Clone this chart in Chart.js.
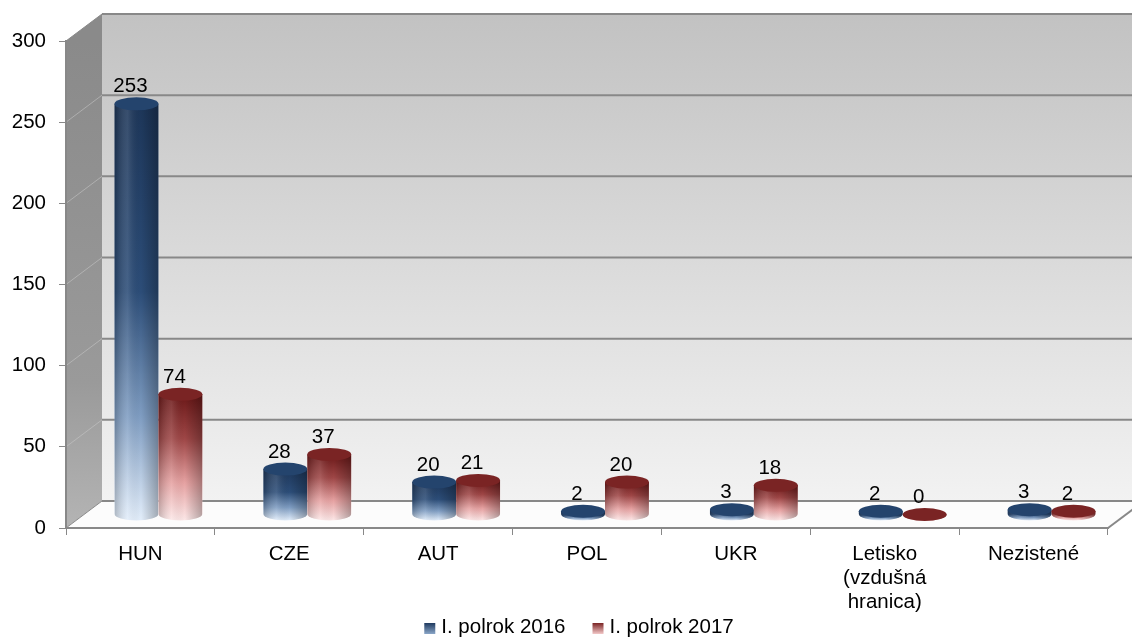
<!DOCTYPE html>
<html>
<head>
<meta charset="utf-8">
<script src="https://cdn.jsdelivr.net/npm/chart.js@4/dist/chart.umd.min.js"></script>
<style>
  html, body { margin: 0; padding: 0; background: #fff; }
  #wrap { width: 1132px; height: 638px; }
</style>
</head>
<body>
<div id="wrap"><canvas id="myChart" width="1132" height="638"></canvas></div>
<script>
const categories = ["HUN", "CZE", "AUT", "POL", "UKR", ["Letisko", "(vzdušná", "hranica)"], "Nezistené"];
const values2016 = [253, 28, 20, 2, 3, 2, 3];
const values2017 = [74, 37, 21, 20, 18, 0, 2];
const seriesNames = ["I. polrok 2016", "I. polrok 2017"];
const yMin = 0, yMax = 300, yStep = 50;

const FONT = "'Liberation Sans', Arial, sans-serif";
const FSIZE = 20.5;
const DX = 36, DY = 27;        // depth of the 3d box
const GRAY = "#888888";

const palettes = [
  { stops: [[0, "#1d3659"], [0.45, "#2c4d78"], [0.75, "#7f9dc2"], [1, "#e3eefb"]], top: "#24446d", key: ["#1f3a5f", "#8aa6c8"] },
  { stops: [[0, "#6b1818"], [0.35, "#9e4646"], [0.7, "#e6a2a2"], [1, "#fde8e8"]], top: "#7a2424", key: ["#7a2424", "#f3c8c8"] }
];

const box3d = {
  id: "box3d",
  beforeDraw(chart) {
    const { ctx, chartArea: a, scales } = chart;
    const y = scales.y;
    ctx.save();
    ctx.fillStyle = "#fff";
    ctx.fillRect(0, 0, chart.width, chart.height);

    // back wall
    let g = ctx.createLinearGradient(0, a.top - DY, 0, a.bottom - DY);
    g.addColorStop(0, "#c2c2c2");
    g.addColorStop(1, "#f2f2f2");
    ctx.fillStyle = g;
    ctx.fillRect(a.left + DX, a.top - DY, a.right - a.left + 10, a.bottom - a.top);

    // side wall
    g = ctx.createLinearGradient(0, a.top, 0, a.bottom);
    g.addColorStop(0, "#8a8a8a");
    g.addColorStop(0.7, "#9a9a9a");
    g.addColorStop(1, "#b4b4b4");
    ctx.fillStyle = g;
    ctx.beginPath();
    ctx.moveTo(a.left, a.top);
    ctx.lineTo(a.left + DX, a.top - DY);
    ctx.lineTo(a.left + DX, a.bottom - DY);
    ctx.lineTo(a.left, a.bottom);
    ctx.closePath();
    ctx.fill();

    // floor
    ctx.fillStyle = "#fcfcfc";
    ctx.beginPath();
    ctx.moveTo(a.left, a.bottom);
    ctx.lineTo(a.left + DX, a.bottom - DY);
    ctx.lineTo(a.right + DX, a.bottom - DY);
    ctx.lineTo(a.right, a.bottom);
    ctx.closePath();
    ctx.fill();

    // gridlines on back wall + side wall
    for (let v = yMin; v <= yMax; v += yStep) {
      const py = y.getPixelForValue(v);
      ctx.strokeStyle = GRAY;
      ctx.lineWidth = 2;
      ctx.beginPath();
      ctx.moveTo(a.left + DX, py - DY);
      ctx.lineTo(a.right + DX, py - DY);
      ctx.stroke();
      ctx.strokeStyle = v === yMin || v === yMax ? GRAY : "rgba(200,200,200,0.55)";
      ctx.lineWidth = 1;
      ctx.beginPath();
      ctx.moveTo(a.left, py);
      ctx.lineTo(a.left + DX, py - DY);
      ctx.stroke();
    }
    // floor right edge
    ctx.strokeStyle = GRAY;
    ctx.lineWidth = 2;
    ctx.beginPath();
    ctx.moveTo(a.right, a.bottom);
    ctx.lineTo(a.right + DX, a.bottom - DY);
    ctx.stroke();
    ctx.restore();
  },

  afterDatasetsDraw(chart) {
    const ctx = chart.ctx;
    const metas = [chart.getDatasetMeta(0), chart.getDatasetMeta(1)];
    const labels = [];
    for (let i = 0; i < categories.length; i++) {
      metas.forEach((meta, d) => {
        const el = meta.data[i];
        const cx = el.x + DX / 2;
        const rx = el.width / 2;
        const ry = 6.5;
        const top = el.y - DY / 2;
        const base = el.base - DY / 2;
        const pal = palettes[d];
        ctx.save();
        // body
        ctx.beginPath();
        ctx.moveTo(cx - rx, top);
        ctx.lineTo(cx - rx, base);
        ctx.ellipse(cx, base, rx, ry, 0, Math.PI, 0, true);
        ctx.lineTo(cx + rx, top);
        ctx.closePath();
        let g = ctx.createLinearGradient(0, top, 0, base + ry);
        pal.stops.forEach(s => g.addColorStop(s[0], s[1]));
        ctx.fillStyle = g;
        ctx.fill();
        ctx.clip();
        g = ctx.createLinearGradient(cx - rx, 0, cx + rx, 0);
        g.addColorStop(0, "rgba(0,0,0,0.22)");
        g.addColorStop(0.3, "rgba(255,255,255,0.12)");
        g.addColorStop(0.6, "rgba(0,0,0,0)");
        g.addColorStop(1, "rgba(0,0,0,0.28)");
        ctx.fillStyle = g;
        ctx.fillRect(cx - rx, top - ry, el.width, base - top + 2 * ry);
        ctx.restore();
        // top cap
        ctx.save();
        ctx.beginPath();
        ctx.ellipse(cx, top, rx, ry, 0, 0, Math.PI * 2);
        ctx.fillStyle = pal.top;
        ctx.fill();
        ctx.restore();
        labels.push({ x: el.x + 12, y: top - ry - 5, text: String(chart.data.datasets[d].data[i]) });
      });
    }
    ctx.save();
    ctx.fillStyle = "#000";
    ctx.font = FSIZE + "px " + FONT;
    ctx.textAlign = "center";
    ctx.textBaseline = "alphabetic";
    labels.forEach(l => ctx.fillText(l.text, l.x, l.y));
    ctx.restore();
  },

  afterDraw(chart) {
    // legend
    const ctx = chart.ctx;
    ctx.save();
    ctx.font = FSIZE + "px " + FONT;
    ctx.textBaseline = "alphabetic";
    const boxW = 11, gap = 6, itemGap = 27;
    const widths = seriesNames.map(n => ctx.measureText(n).width);
    const total = widths.reduce((s, w) => s + boxW + gap + w, 0) + itemGap * (seriesNames.length - 1);
    let x = 579 - total / 2;
    const baseY = 633;
    seriesNames.forEach((name, d) => {
      const g = ctx.createLinearGradient(0, baseY - 10, 0, baseY + 1);
      g.addColorStop(0, palettes[d].key[0]);
      g.addColorStop(1, palettes[d].key[1]);
      ctx.fillStyle = g;
      ctx.fillRect(x, baseY - 10, boxW, 11);
      ctx.fillStyle = "#000";
      ctx.fillText(name, x + boxW + gap, baseY);
      x += boxW + gap + widths[d] + itemGap;
    });
    ctx.restore();
  }
};

const ctx = document.getElementById("myChart").getContext("2d");

new Chart(ctx, {
  type: "bar",
  data: {
    labels: categories,
    datasets: [
      { label: seriesNames[0], data: values2016, backgroundColor: "rgba(0,0,0,0)", borderWidth: 0 },
      { label: seriesNames[1], data: values2017, backgroundColor: "rgba(0,0,0,0)", borderWidth: 0 }
    ]
  },
  options: {
    responsive: false,
    animation: false,
    layout: { padding: { top: 41, right: 24, left: 0, bottom: 0 } },
    datasets: { bar: { categoryPercentage: 0.59, barPercentage: 1 } },
    plugins: { legend: { display: false }, tooltip: { enabled: false } },
    scales: {
      x: {
        afterFit(s) { s.height = 110; },
        grid: { offset: true, drawOnChartArea: false, tickLength: 7, color: GRAY, lineWidth: 1 },
        border: { color: GRAY, width: 2 },
        ticks: { color: "#000", padding: 8, font: { family: FONT, size: FSIZE, lineHeight: 1.15 }, maxRotation: 0, autoSkip: false }
      },
      y: {
        min: yMin,
        max: yMax,
        afterFit(s) { s.width = 66; },
        grid: { drawOnChartArea: false, tickLength: 7, color: GRAY, lineWidth: 1 },
        border: { color: GRAY, width: 2 },
        ticks: { stepSize: yStep, color: "#000", padding: 13, font: { family: FONT, size: FSIZE } }
      }
    }
  },
  plugins: [box3d]
});
</script>
</body>
</html>
